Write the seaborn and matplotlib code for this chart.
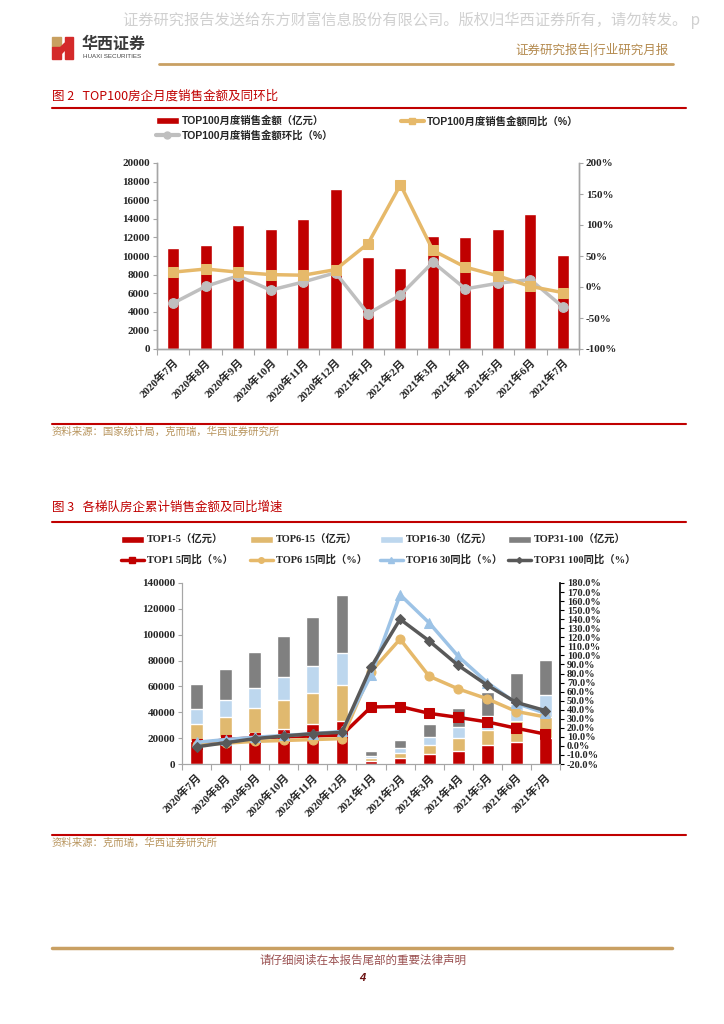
import numpy as np
import pandas as pd
import matplotlib
matplotlib.use("Agg")
import matplotlib.pyplot as plt
import seaborn as sns
from matplotlib.lines import Line2D
from matplotlib.patches import Patch, Polygon
from matplotlib.font_manager import FontProperties

# ---- data ----
months = ['2020年7月', '2020年8月', '2020年9月', '2020年10月', '2020年11月', '2020年12月',
          '2021年1月', '2021年2月', '2021年3月', '2021年4月', '2021年5月', '2021年6月', '2021年7月']

# 图2: TOP100 monthly sales (亿元) and yoy / mom (%)
top100_amount = [10850, 11150, 13300, 12850, 13950, 17200, 9850, 8700, 12200, 12050, 12900, 14550, 10100]
top100_yoy = [24, 29, 24, 20, 19, 28, 70, 165, 59, 32, 18, 1, -9]
top100_mom = [-26, 1, 18, -5, 8, 23, -43, -13, 40, -3, 6, 12, -32]

# 图3: cumulative sales per tier (亿元)
top1_5_amount = [17500, 20900, 23700, 27300, 30700, 33000, 2300, 4600, 7700, 10300, 14400, 17000, 19900]
top6_15_amount = [13700, 15200, 19600, 22200, 24000, 27800, 2100, 3900, 6700, 9800, 11900, 16000, 16500]
top16_30_amount = [11100, 13700, 15200, 17500, 20800, 25100, 1800, 3900, 6500, 8800, 10800, 13700, 17000]
top31_100_amount = [19300, 23400, 27900, 32300, 37900, 44600, 3600, 6400, 10300, 14400, 18300, 23400, 26800]

# 图3: yoy growth per tier (%)
top1_5_yoy = [2, 7, 9, 10, 11, 12, 43, 43.5, 36, 31.5, 26.5, 19.5, 13]
top6_15_yoy = [1, 3, 5, 6, 7, 8, 82, 118, 77, 63, 52, 38, 32]
top16_30_yoy = [4, 7, 9.5, 11.5, 13.5, 16, 78, 167, 136, 99, 70, 47, 36]
top31_100_yoy = [-1, 3.5, 8, 11, 13.5, 15, 87, 140, 116, 89, 67, 48, 39]

left1_ticks = list(range(0, 20001, 2000))
right1_ticks = list(range(-100, 201, 50))
left2_ticks = list(range(0, 140001, 20000))
right2_ticks = list(range(-20, 181, 10))

# ---- colours ----
RED = '#c00000'
GOLD = '#e6b96a'
GREY_LINE = '#bfbfbf'
BAR_GOLD = '#e0b96f'
BAR_BLUE = '#bdd7ee'
LINE_BLUE = '#9dc3e6'
BAR_GREY = '#808080'
LINE_DARK = '#595959'
AXIS_GREY = '#a6a6a6'
SOURCE = '#b8955e'
HEADER_GOLD = '#c9a063'

sns.set_style('ticks')
plt.rcParams['font.family'] = ['Liberation Serif', 'Noto Sans CJK SC']
plt.rcParams['axes.unicode_minus'] = False

SERIF = ['Liberation Serif', 'Noto Sans CJK SC']
SANS = ['Liberation Sans', 'Noto Sans CJK SC']
CJK = ['Noto Sans CJK SC', 'DejaVu Sans']

W, H = 724, 1024


def fx(x):
    return x / W


def fy(y):
    return 1 - y / H


def box(l, t, r, b):
    return [fx(l), fy(b), (r - l) / W, (b - t) / H]


def hline(x0, x1, y, color, lw):
    fig.add_artist(Line2D([fx(x0), fx(x1)], [fy(y), fy(y)], color=color, lw=lw,
                          transform=fig.transFigure))


def legend_item(handle, label, x, y, family, size=7.5, hl=2.2):
    fig.legend([handle], [label], loc='center left', bbox_to_anchor=(fx(x), fy(y)),
               frameon=False, borderpad=0, borderaxespad=0, handlelength=hl,
               handletextpad=0.25, prop=FontProperties(family=family, weight='bold', size=size))


fig = plt.figure(figsize=(7.24, 10.24), dpi=100)

# ---- page header ----
fig.text(fx(123), fy(20), '证券研究报告发送给东方财富信息股份有限公司。版权归华西证券所有，请勿转发。 p',
         family=CJK, fontsize=11, weight='light', color='#d0d0d0', va='center', ha='left')
fig.add_artist(Polygon([(fx(52), fy(37)), (fx(61), fy(37)), (fx(61), fy(47)), (fx(52), fy(47))],
                       closed=True, color='#c8a060', transform=fig.transFigure))
fig.add_artist(Polygon([(fx(52), fy(47)), (fx(61), fy(47)), (fx(61), fy(59)), (fx(52), fy(59))],
                       closed=True, color='#d42a2a', transform=fig.transFigure))
fig.add_artist(Polygon([(fx(65), fy(37)), (fx(73), fy(37)), (fx(73), fy(59)), (fx(65), fy(59))],
                       closed=True, color='#d42a2a', transform=fig.transFigure))
fig.add_artist(Polygon([(fx(61), fy(47)), (fx(65), fy(43)), (fx(65), fy(50)), (fx(61), fy(54))],
                       closed=True, color='#d42a2a', transform=fig.transFigure))
fig.text(fx(82), fy(44), '华西证券', family=CJK, fontsize=11.5, weight='bold', color='#3a3a3a', va='center')
fig.text(fx(83), fy(57), 'HUAXI SECURITIES', family=['Liberation Sans'], fontsize=4.5, color='#444444',
         va='center')
fig.text(fx(669), fy(50), '证券研究报告|行业研究月报', family=CJK, fontsize=9, color='#b48a4e',
         va='center', ha='right')
hline(159, 673, 64, HEADER_GOLD, 2)

# ---- 图2 ----
fig.text(fx(52), fy(96), '图 2   TOP100房企月度销售金额及同环比', family=CJK, fontsize=9, color=RED,
         va='center')
hline(52, 686, 108, RED, 1.5)

legend_item(Patch(facecolor=RED), 'TOP100月度销售金额（亿元）', 156, 121, SANS)
legend_item(Line2D([], [], color=GOLD, lw=3, marker='s', markersize=5), 'TOP100月度销售金额同比（%）',
            401, 121, SANS)
legend_item(Line2D([], [], color=GREY_LINE, lw=3, marker='o', markersize=5), 'TOP100月度销售金额环比（%）',
            156, 135, SANS)

n = len(months)
xs = np.arange(n)
df1 = pd.DataFrame({'month': months, 'amount': top100_amount, 'yoy': top100_yoy, 'mom': top100_mom})

ax1 = fig.add_axes(box(157, 163, 579, 349))
sns.barplot(data=df1, x='month', y='amount', color=RED, width=0.37, saturation=1, ax=ax1)
ax1r = ax1.twinx()
sns.lineplot(x=xs, y=df1['mom'], ax=ax1r, color=GREY_LINE, linewidth=2.5, marker='o', markersize=7,
             markeredgecolor=GREY_LINE, legend=False)
sns.lineplot(x=xs, y=df1['yoy'], ax=ax1r, color=GOLD, linewidth=2.5, marker='s', markersize=6.5,
             markeredgecolor=GOLD, legend=False)

ax1.set_ylim(0, 20000)
ax1.set_yticks(left1_ticks)
ax1.set_yticklabels([str(v) for v in left1_ticks], fontsize=8, fontweight='bold')
ax1r.set_ylim(-100, 200)
ax1r.set_yticks(right1_ticks)
ax1r.set_yticklabels([f'{v}%' for v in right1_ticks], fontsize=8, fontweight='bold')
ax1.set_xticks(xs)
ax1.set_xticklabels(months, rotation=45, ha='right', rotation_mode='anchor', fontsize=8, fontweight='bold')
ax1.set_xticks(np.arange(-0.5, n, 1), minor=True)
ax1.tick_params(axis='x', which='major', length=0, pad=6)
ax1.tick_params(axis='x', which='minor', length=4, color=AXIS_GREY, width=0.8)
ax1.tick_params(axis='y', length=3, color=AXIS_GREY, pad=2)
ax1r.tick_params(axis='y', length=3, color=AXIS_GREY, pad=2)
for a in (ax1, ax1r):
    a.set_xlabel('')
    a.set_ylabel('')
    a.spines['top'].set_visible(False)
    for s in ('left', 'right', 'bottom'):
        a.spines[s].set_color(AXIS_GREY)
        a.spines[s].set_linewidth(1)
ax1.set_xlim(-0.5, n - 0.5)

hline(52, 686, 424, RED, 1.5)
fig.text(fx(52), fy(432), '资料来源：国家统计局，克而瑞，华西证券研究所', family=CJK, fontsize=7.5,
         color=SOURCE, va='center')

# ---- 图3 ----
fig.text(fx(52), fy(507), '图 3   各梯队房企累计销售金额及同比增速', family=CJK, fontsize=9, color=RED,
         va='center')
hline(52, 686, 522, RED, 1.5)

bar_items = [(RED, 'TOP1-5（亿元）'), (BAR_GOLD, 'TOP6-15（亿元）'),
             (BAR_BLUE, 'TOP16-30（亿元）'), (BAR_GREY, 'TOP31-100（亿元）')]
line_items = [(RED, 's', 5, 'TOP1 5同比（%）'), (GOLD, 'o', 4, 'TOP6 15同比（%）'),
              (LINE_BLUE, '^', 4, 'TOP16 30同比（%）'), (LINE_DARK, 'D', 3, 'TOP31 100同比（%）')]
leg_x = [121, 250, 380, 508]
for (c, lab), x in zip(bar_items, leg_x):
    legend_item(Patch(facecolor=c), lab, x, 540, SERIF)
for (c, m, ms, lab), x in zip(line_items, leg_x):
    legend_item(Line2D([], [], color=c, lw=2.5, marker=m, markersize=ms), lab, x, 560, SERIF)

df2 = pd.DataFrame({'month': months, 't1': top1_5_amount, 't2': top6_15_amount,
                    't3': top16_30_amount, 't4': top31_100_amount})
df2['c1'] = df2['t1']
df2['c2'] = df2['c1'] + df2['t2']
df2['c3'] = df2['c2'] + df2['t3']
df2['c4'] = df2['c3'] + df2['t4']

ax2 = fig.add_axes(box(182, 583, 560, 764))
for col, c in [('c4', BAR_GREY), ('c3', BAR_BLUE), ('c2', BAR_GOLD), ('c1', RED)]:
    sns.barplot(data=df2, x='month', y=col, color=c, width=0.44, saturation=1, ax=ax2)

ax2r = ax2.twinx()
for vals, c, m, ms in [(top1_5_yoy, RED, 's', 7), (top6_15_yoy, GOLD, 'o', 6.5),
                       (top16_30_yoy, LINE_BLUE, '^', 6.5), (top31_100_yoy, LINE_DARK, 'D', 5)]:
    sns.lineplot(x=xs, y=vals, ax=ax2r, color=c, linewidth=2.5, marker=m, markersize=ms,
                 markeredgecolor=c, legend=False)

ax2.set_ylim(0, 140000)
ax2.set_yticks(left2_ticks)
ax2.set_yticklabels([str(v) for v in left2_ticks], fontsize=8, fontweight='bold')
ax2r.set_ylim(-20, 180)
ax2r.set_yticks(right2_ticks)
ax2r.set_yticklabels([f'{v:.1f}%' for v in right2_ticks], fontsize=7.5, fontweight='bold')
ax2.set_xticks(xs)
ax2.set_xticklabels(months, rotation=45, ha='right', rotation_mode='anchor', fontsize=8, fontweight='bold')
ax2.set_xticks(np.arange(-0.5, n, 1), minor=True)
ax2.tick_params(axis='x', which='major', length=0, pad=6)
ax2.tick_params(axis='x', which='minor', length=4, color=AXIS_GREY, width=0.8)
ax2.tick_params(axis='y', length=3, color=AXIS_GREY, pad=2)
ax2r.tick_params(axis='y', length=3, color='black', pad=2)
for a in (ax2, ax2r):
    a.set_xlabel('')
    a.set_ylabel('')
    a.spines['top'].set_visible(False)
    a.spines['left'].set_color(AXIS_GREY)
    a.spines['bottom'].set_color(AXIS_GREY)
ax2r.spines['right'].set_color('black')
ax2r.spines['right'].set_linewidth(1.2)
ax2.spines['right'].set_visible(False)
ax2.set_xlim(-0.5, n - 0.5)

hline(52, 686, 835, RED, 1.5)
fig.text(fx(52), fy(843), '资料来源：克而瑞，华西证券研究所', family=CJK, fontsize=7.5, color=SOURCE, va='center')

# ---- page footer ----
hline(52, 672, 948, HEADER_GOLD, 2.5)
fig.text(fx(363), fy(960), '请仔细阅读在本报告尾部的重要法律声明', family=CJK, fontsize=8.3, color='#9a5050',
         ha='center', va='center')
fig.text(fx(362), fy(978), '4', family=['Liberation Sans'], fontsize=8, weight='bold', style='italic',
         color='#6a1010', ha='center', va='center')

fig.savefig('out.png', dpi=100)
